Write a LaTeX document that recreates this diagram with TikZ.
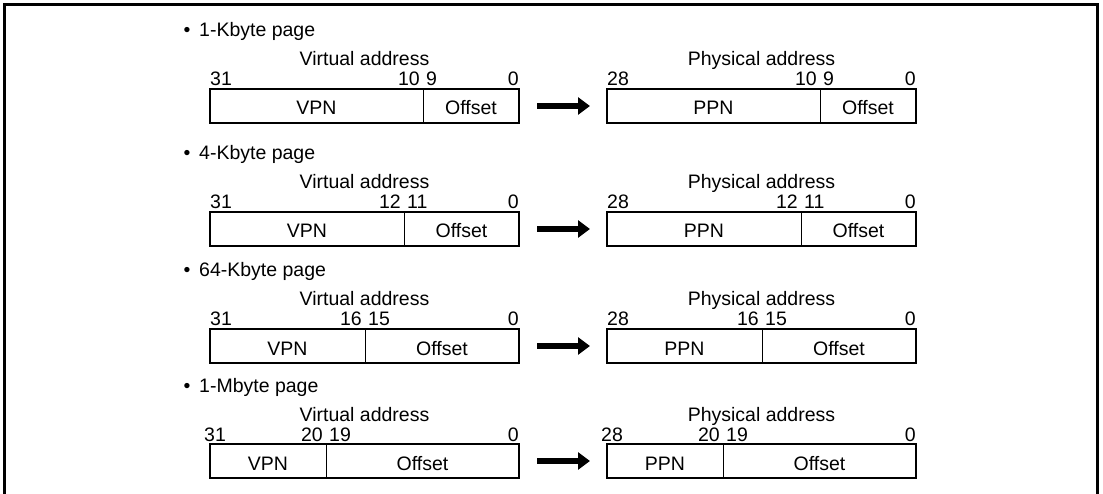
\documentclass[tikz,border=0pt]{standalone}
\usepackage{fontspec}
\setmainfont{Liberation Sans}
\usetikzlibrary{arrows.meta}

\tikzset{
  lbl/.style={inner sep=0pt, font=\fontsize{19.5}{19.5}\selectfont},
  addrbox/.style={draw, line width=2pt, outer sep=0pt, minimum width=309pt, minimum height=34pt, inner sep=0pt},
  divider/.style={line width=1pt},
  maparrow/.style={line width=6pt, -{Triangle[length=12pt,width=17pt]}, shorten <=18pt, shorten >=17pt},
}

\begin{document}
\begin{tikzpicture}[x=1pt, y=-1pt]
    \useasboundingbox (0,0) rectangle (1103,494);
    % Frame, open at the bottom
    \draw[line width=2.5pt] (4.5,494) -- (4.5,4.5) -- (1097.5,4.5) -- (1097.5,494);
    % One row per page size: box top, name, split position, split bits
    \foreach \ytop/\pagename/\vd/\hib/\lob/\lshift [count=\i] in
      {89/1-Kbyte page/423/10/9/0, 212/4-Kbyte page/404/12/11/0,
       329/64-Kbyte page/365/16/15/0, 444/1-Mbyte page/326/20/19/-6} {
        \node[lbl, anchor=base] (bul\i) at (187,\ytop-52) {•};
        \node[lbl, anchor=base west] (title\i) at (199,\ytop-52) {\pagename};
        % virtual address, then physical address shifted right
        \foreach \dx/\capt/\msb/\pn/\side in
          {0/Virtual address/31/VPN/va, 397/Physical address/28/PPN/pa} {
            \begin{scope}[xshift=\dx pt]
                \node[addrbox, anchor=north west] (\side\i) at (210,\ytop) {};
                \coordinate (\side div\i) at (\vd,\ytop);
                \draw[divider] (\side div\i) -- (\side div\i |- \side\i.south);
                \node[lbl, anchor=base] (\side cap\i) at (364.5,\ytop-23) {\capt};
                \node[lbl, anchor=base west] (\side msb\i) at (210+\lshift,\ytop-3) {\msb};
                \node[lbl, anchor=base east] (\side hi\i) at (\vd-3,\ytop-3) {\hib};
                \node[lbl, anchor=base west] (\side lo\i) at (\vd+3,\ytop-3) {\lob};
                \node[lbl, anchor=base east] (\side lsb\i) at (519,\ytop-3) {0};
                \node[lbl, anchor=base] (\side pn\i) at ({(210+\vd)/2},\ytop+26) {\pn};
                \node[lbl, anchor=base] (\side off\i) at ({(\vd+519)/2},\ytop+26) {Offset};
            \end{scope}
        }
        \draw[maparrow] (va\i) -- (pa\i);
    }
\end{tikzpicture}
\end{document}
